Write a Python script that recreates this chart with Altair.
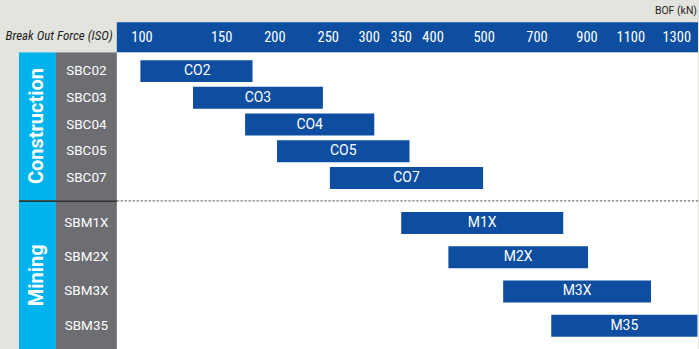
import altair as alt
import numpy as np
import pandas as pd

# ---------------- data ----------------
tick_values = [100, 150, 200, 250, 300, 350, 400, 500, 700, 900, 1100, 1300, 1400]
# designed (non-linear) axis of the original infographic: piecewise scale breakpoints
tick_pos = [25.2, 105.0, 158.3, 211.7, 252.7, 284.8, 316.7, 367.8, 420.8, 470.8, 514.7, 560.7, 583.7]
tick_labels = ["100", "150", "200", "250", "300", "350", "400", "500", "700", "900", "1100", "1300"]

sections = ["Construction", "Mining"]

construction_rows = ["SBC02", "SBC03", "SBC04", "SBC05", "SBC07"]
construction_labels = ["CO2", "CO3", "CO4", "CO5", "CO7"]
construction_min = [99, 132, 172, 202, 252]
construction_max = [179, 245, 308, 363, 498]

mining_rows = ["SBM1X", "SBM2X", "SBM3X", "SBM35"]
mining_labels = ["M1X", "M2X", "M3X", "M35"]
mining_min = [350, 430, 572, 757]
mining_max = [805, 905, 1188, 1390]

axis_title = "Break Out Force (ISO)"
unit_title = "BOF (kN)"

# ---------------- style ----------------
BG = "#e4e4df"
BLUE = "#0d4ea1"
CYAN = "#00b3ec"
GREY = "#6d6e72"
NARROW = "Roboto Condensed"
FONT = "Roboto"

W = 582
H1 = 148
H2 = 149

xscale = alt.Scale(domain=tick_values, range=tick_pos, nice=False, zero=False)


def label_mid(lo, hi):
    # value whose position on the piecewise scale is the visual centre of the bar
    p = (np.interp(lo, tick_values, tick_pos) + np.interp(hi, tick_values, tick_pos)) / 2
    return np.interp(p, tick_pos, tick_values)


def one_row():
    return pd.DataFrame({"k": [0]})


def panel(section, rows, labels, mins, maxs, height, p_inner, p_outer, align,
          header=False, separator=False):
    df = pd.DataFrame({"row": rows, "label": labels, "lo": mins, "hi": maxs})
    df["mid"] = label_mid(df["lo"].to_numpy(float), df["hi"].to_numpy(float))
    yscale = alt.Scale(domain=rows, paddingInner=p_inner, paddingOuter=p_outer, align=align)
    sec = alt.Chart(pd.DataFrame({"section": [section]}))
    one = alt.Chart(one_row())

    layers = []
    layers.append(one.mark_rect(fill=BG).encode(
        x=alt.value(-117), x2=alt.value(-98), y=alt.value(0), y2=alt.value(height)))
    layers.append(one.mark_rect(fill=CYAN).encode(
        x=alt.value(-98), x2=alt.value(-61), y=alt.value(0), y2=alt.value(height)))
    layers.append(one.mark_rect(fill=GREY).encode(
        x=alt.value(-61), x2=alt.value(0), y=alt.value(0), y2=alt.value(height)))

    if header:
        ticks = pd.DataFrame({"v": tick_values[:len(tick_labels)], "t": tick_labels})
        layers.append(one.mark_rect(fill=BG).encode(
            x=alt.value(-117), x2=alt.value(W), y=alt.value(-52), y2=alt.value(0)))
        layers.append(one.mark_rect(fill=BLUE).encode(
            x=alt.value(0), x2=alt.value(W), y=alt.value(-30), y2=alt.value(0)))
        layers.append(alt.Chart(ticks).mark_text(
            color="white", font=NARROW, fontSize=14.5, baseline="middle", align="center"
        ).encode(
            x=alt.X("v:Q", scale=xscale, axis=None), y=alt.value(-14.5), text="t:N"))
        layers.append(alt.Chart(pd.DataFrame({"t": [axis_title]})).mark_text(
            color="#1e1e1e", font=NARROW, fontSize=13, fontStyle="italic",
            baseline="middle", align="right"
        ).encode(x=alt.value(-4), y=alt.value(-16), text="t:N"))
        layers.append(alt.Chart(pd.DataFrame({"t": [unit_title]})).mark_text(
            color="#1e1e1e", font=FONT, fontSize=10.5, baseline="middle", align="right"
        ).encode(x=alt.value(W - 1), y=alt.value(-41), text="t:N"))

    if separator:
        layers.append(one.mark_rule(color="#1a1a1a", strokeWidth=1.5).encode(
            x=alt.value(-98), x2=alt.value(0), y=alt.value(0)))
        layers.append(one.mark_rule(color="#555555", strokeWidth=1, strokeDash=[2, 2]).encode(
            x=alt.value(0), x2=alt.value(W), y=alt.value(0)))

    base = alt.Chart(df)
    layers.append(base.mark_bar(color=BLUE, cornerRadius=0).encode(
        x=alt.X("lo:Q", scale=xscale, axis=None),
        x2="hi:Q",
        y=alt.Y("row:N", scale=yscale, axis=None)))
    layers.append(base.mark_text(color="white", font=FONT, fontSize=14,
                                 baseline="middle", align="center").encode(
        x=alt.X("mid:Q", scale=xscale, axis=None),
        y=alt.Y("row:N", scale=yscale, axis=None),
        text="label:N"))
    layers.append(base.mark_text(color="white", font=FONT, fontSize=13.5,
                                 baseline="middle", align="center").encode(
        x=alt.value(-30.5),
        y=alt.Y("row:N", scale=yscale, axis=None),
        text="row:N"))
    layers.append(sec.mark_text(color="white", font=FONT, fontSize=20, fontWeight="bold",
                                angle=270, baseline="middle", align="center").encode(
        x=alt.value(-79.5), y=alt.value(height / 2), text="section:N"))

    return alt.layer(*layers).properties(width=W, height=height)


top = panel(sections[0], construction_rows, construction_labels, construction_min,
            construction_max, H1, 0.1776, 0.355, 0.42, header=True)
bottom = panel(sections[1], mining_rows, mining_labels, mining_min, mining_max,
               H2, 0.359, 0.35, 0.458, separator=True)

chart = alt.vconcat(top, bottom, spacing=0).properties(
    padding=0, background=BG
).configure_view(stroke=None, fill="white")

chart.save("out.html", embed_options={"renderer": "svg", "actions": False})
